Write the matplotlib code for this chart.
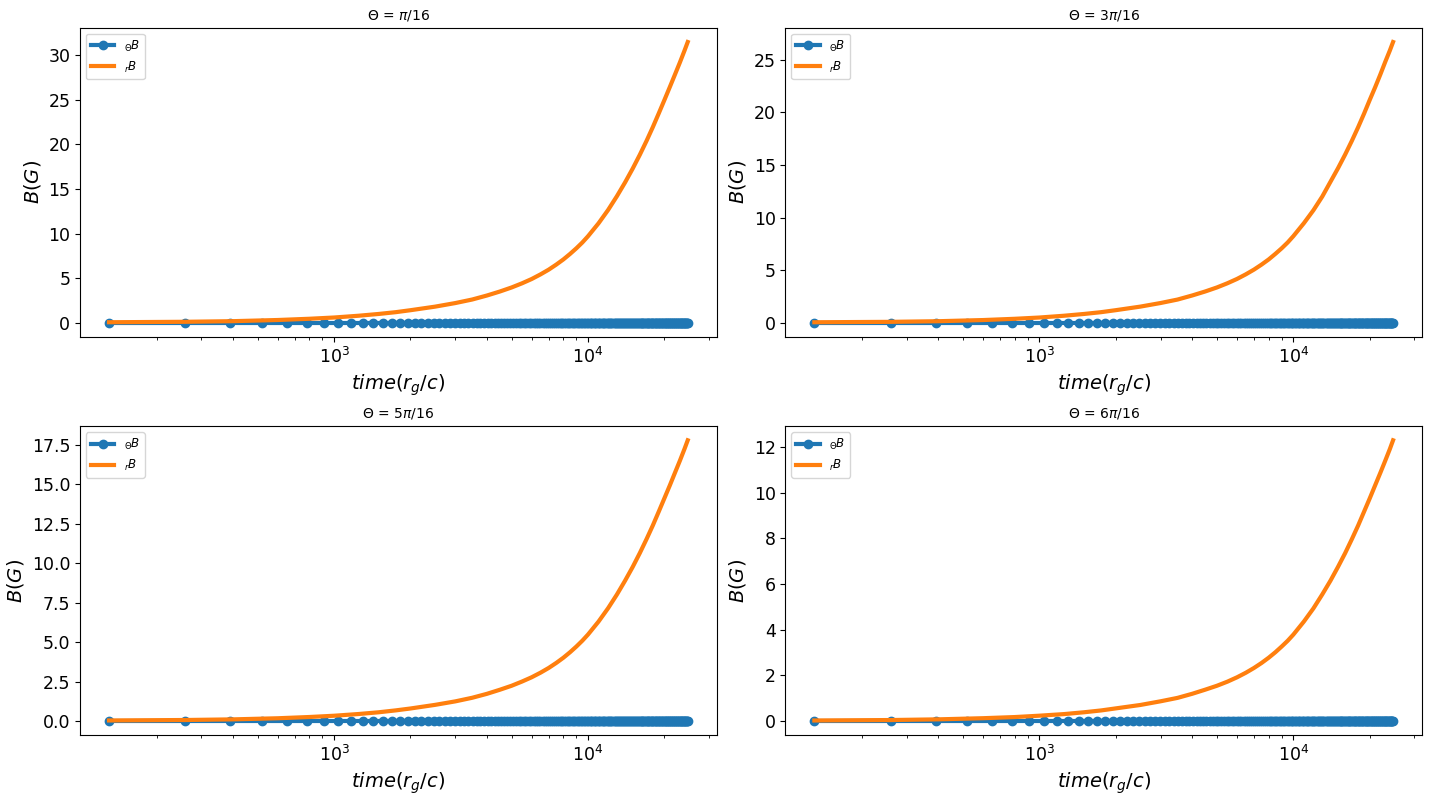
import numpy as np
import matplotlib
matplotlib.use('Agg')
import matplotlib.pyplot as plt

# sample times of the simulation output (r_g/c)
t_theta = np.arange(130, 24701, 130)
# theta component stays at zero in every panel
b_theta = np.zeros(len(t_theta))

# radial component
t_r = [130, 260, 400, 600, 800, 1000, 1250, 1500, 1750, 2000,
       2500, 3000, 3500, 4000, 4500, 5000, 5500, 6000, 6500, 7000, 7500, 8000,
       8500, 9000, 9500, 10000,
       11000, 12000, 13000, 14000, 15000, 16000, 17000, 18000, 19000, 20000,
       21000, 22000, 23000, 24000, 24700]
b_r_1 = [0.05, 0.10, 0.17, 0.30, 0.44, 0.58, 0.78, 0.98, 1.18, 1.40,
         1.80, 2.20, 2.60, 3.05, 3.50, 3.95, 4.42, 4.90, 5.42, 5.95, 6.52, 7.10,
         7.72, 8.35, 9.00, 9.70,
         11.15, 12.65, 14.2, 15.75, 17.3, 18.85, 20.4, 21.95, 23.5, 25.0,
         26.45, 27.85, 29.2, 30.55, 31.5]
b_r_3 = [0.04, 0.08, 0.14, 0.25, 0.37, 0.49, 0.66, 0.83, 1.00, 1.19,
         1.53, 1.87, 2.20, 2.59, 2.97, 3.35, 3.75, 4.16, 4.60, 5.05, 5.53, 6.02,
         6.55, 7.08, 7.63, 8.23,
         9.46, 10.7, 12.0, 13.4, 14.7, 16.0, 17.3, 18.6, 19.9, 21.2,
         22.4, 23.6, 24.8, 25.9, 26.7]
b_r_5 = [0.03, 0.06, 0.10, 0.17, 0.25, 0.33, 0.44, 0.55, 0.67, 0.79,
         1.02, 1.24, 1.47, 1.72, 1.98, 2.23, 2.50, 2.77, 3.06, 3.36, 3.68, 4.01,
         4.36, 4.72, 5.09, 5.48,
         6.30, 7.15, 8.02, 8.90, 9.77, 10.65, 11.53, 12.40, 13.28, 14.13,
         14.94, 15.74, 16.50, 17.26, 17.80]
b_r_6 = [0.02, 0.04, 0.07, 0.12, 0.17, 0.23, 0.30, 0.38, 0.46, 0.55,
         0.70, 0.86, 1.01, 1.19, 1.37, 1.54, 1.72, 1.91, 2.11, 2.32, 2.54, 2.77,
         3.01, 3.26, 3.51, 3.78,
         4.35, 4.93, 5.54, 6.14, 6.75, 7.35, 7.96, 8.56, 9.17, 9.75,
         10.32, 10.86, 11.39, 11.91, 12.29]

titles = [r'$\Theta$ = $\pi$/16', r'$\Theta$ = 3$\pi$/16',
          r'$\Theta$ = 5$\pi$/16', r'$\Theta$ = 6$\pi$/16']
b_r_all = [b_r_1, b_r_3, b_r_5, b_r_6]

fig, axes = plt.subplots(2, 2, figsize=(14.3, 7.95), dpi=100)
fig.subplots_adjust(left=0.056, right=0.9944, top=0.9648, bottom=0.0755,
                    wspace=0.108, hspace=0.29)

for ax, title, b_r in zip(axes.flat, titles, b_r_all):
    ax.plot(t_theta, b_theta, '-o', color='#1f77b4', lw=3, ms=6,
            label=r'$_\Theta B$')
    ax.plot(t_r, b_r, '-', color='#ff7f0e', lw=3, label=r'$_r B$')
    ax.set_xscale('log')
    ax.set_title(title, fontsize=10)
    ax.set_xlabel(r'$time(r_g/c)$', fontsize=14)
    ax.set_ylabel(r'$B(G)$', fontsize=14)
    ax.tick_params(labelsize=12.5)
    ax.legend(loc='upper left', fontsize=8.5)

plt.savefig('out.png', dpi=100)
